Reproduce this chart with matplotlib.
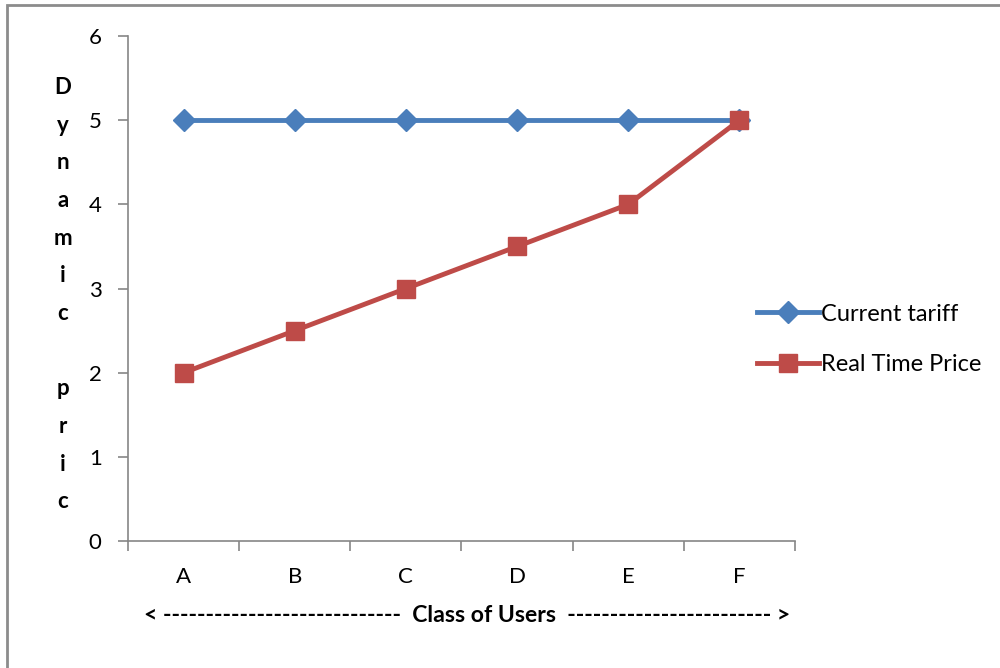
import matplotlib.pyplot as plt
from matplotlib.patches import Rectangle

plt.rcParams['font.family'] = ['Lato', 'DejaVu Sans']

classes = ['A', 'B', 'C', 'D', 'E', 'F']
current_tariff = [5, 5, 5, 5, 5, 5]
real_time_price = [2, 2.5, 3, 3.5, 4, 5]
y_ticks = [0, 1, 2, 3, 4, 5, 6]

blue = '#4A7EBB'
red = '#BE4B48'
axis_gray = '#868686'

fig = plt.figure(figsize=(10, 6.68), dpi=100)
ax = fig.add_axes([0.128, 0.19, 0.667, 0.756])

x = list(range(len(classes)))
ax.plot(x, current_tariff, color=blue, lw=3.5, marker='D', ms=11,
        label='Current tariff', zorder=3)
ax.plot(x, real_time_price, color=red, lw=3.5, marker='s', ms=13,
        label='Real Time Price', zorder=4)

ax.set_xlim(-0.5, len(classes) - 0.5)
ax.set_ylim(0, 6)
ax.set_yticks(y_ticks)
ax.set_yticklabels([str(v) for v in y_ticks], fontsize=16)

# ticks sit between categories, labels at the category centres
ax.set_xticks([i - 0.5 for i in range(len(classes) + 1)])
ax.set_xticklabels([])
ax.set_xticks(x, minor=True)
ax.set_xticklabels(classes, minor=True, fontsize=16)
ax.tick_params(axis='x', which='minor', length=0, pad=19)
ax.tick_params(axis='both', which='major', direction='out', length=7,
               width=1.2, color=axis_gray)
ax.tick_params(axis='y', pad=12)

for side in ['top', 'right']:
    ax.spines[side].set_visible(False)
for side in ['left', 'bottom']:
    ax.spines[side].set_color(axis_gray)
    ax.spines[side].set_linewidth(1.2)

fig.text(0.467, 1 - 615 / 668,
         '< ' + '-' * 28 + '  Class of Users  ' + '-' * 24 + ' >',
         fontsize=16.6, fontweight='bold', ha='center', va='center')

fig.text(0.063, 1 - 77 / 668, 'D\ny\nn\na\nm\ni\nc\n\np\nr\ni\nc',
         fontsize=16, fontweight='bold', ha='center', va='top',
         linespacing=1.98)

ax.legend(loc='center left', bbox_to_anchor=(0.748, 0.492), frameon=False,
          fontsize=17, handlelength=2.6, handletextpad=0.1,
          labelspacing=1.25, bbox_transform=fig.transFigure,
          borderaxespad=0)

fig.patches.append(Rectangle((0.007, -0.1), 1.2, 1.092, transform=fig.transFigure,
                             fill=False, edgecolor='#8C8C8C', lw=2))

fig.savefig('out.png', dpi=100)
